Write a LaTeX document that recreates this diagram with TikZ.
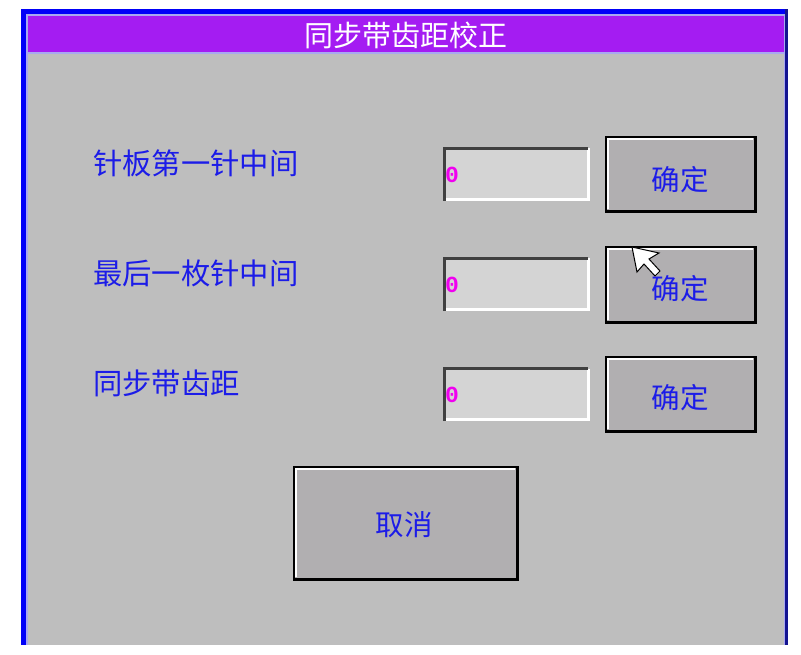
\documentclass[tikz,border=0pt]{standalone}
\usepackage{fontspec}
\newfontfamily\cjk{Noto Sans CJK SC}
\newfontfamily\monofnt{Liberation Mono}
\definecolor{winblue}{HTML}{0000F8}
\definecolor{winnavy}{HTML}{141490}
\definecolor{paleblue}{HTML}{A8A8F0}
\definecolor{titlepurple}{HTML}{A41CF2}
\definecolor{bodygray}{HTML}{BEBEBE}
\definecolor{btngray}{HTML}{B1AFB1}
\definecolor{fieldgray}{HTML}{D4D4D4}
\definecolor{txtblue}{HTML}{1C1CE8}
\definecolor{magentatxt}{HTML}{F000F0}
\tikzset{
  lbl/.style={anchor=west, inner sep=0pt, text=txtblue, font=\cjk\fontsize{29.3}{29.3}\selectfont},
  btntxt/.style={inner sep=0pt, text=txtblue, font=\cjk\fontsize{28.5}{28.5}\selectfont},
  zero/.style={anchor=west, inner sep=0pt, text=magentatxt, font=\monofnt\bfseries\fontsize{23}{23}\selectfont},
}
\usetikzlibrary{calc}
\newcommand{\mybutton}[5]{% name, x1,y1,x2,y2
  \fill[btngray] (#2,#3) rectangle (#4,#5);
  \draw[white, line width=1.5pt] ($(#2,#5)+(2,-3)$) -- ($(#2,#3)+(2,2)$) -- ($(#4,#3)+(-3,2)$);
  \draw[black, line width=2pt] (#2,#3) rectangle (#4,#5);
  \draw[black, line width=1.5pt] ($(#4,#3)+(-1.5,1)$) -- ($(#4,#5)+(-1.5,-1.5)$) -- ($(#2,#5)+(1,-1.5)$);
  \coordinate (#1) at ($(#2,#3)!0.5!(#4,#5)$);
}
\newcommand{\myfield}[5]{% name, x1,y1,x2,y2
  \fill[fieldgray] (#2,#3) rectangle (#4,#5);
  \draw[white, line width=3pt] ($(#4,#3)+(0,1.5)$) -- ($(#4,#5)+(0,-1.5)$) -- ($(#2,#5)+(0,-1.5)$);
  \draw[black!75, line width=3pt] ($(#2,#5)+(1.5,0)$) -- ($(#2,#3)+(1.5,1.5)$) -- ($(#4,#3)+(0,1.5)$);
  \coordinate (#1) at ($(#2,#3)!0.5!(#4,#5)$);
}
\begin{document}
\begin{tikzpicture}[x=1pt,y=-1pt]
\useasboundingbox (0,0) rectangle (801,655);
\fill[white] (0,0) rectangle (801,655);
% window frame
\fill[winblue] (21,9) rectangle (788,645);
\fill[winnavy] (785,9) rectangle (788,645);
\fill[paleblue] (26,14) rectangle (785,645);
\fill[bodygray] (28,54) rectangle (783.5,645);
% title bar
\fill[titlepurple] (28,16) rectangle (783.5,52);
\node[inner sep=0pt, text=white, font=\cjk\fontsize{29}{29}\selectfont] (title) at (406,35) {同步带齿距校正};
% labels
\node[lbl] (l1) at (93,163) {针板第一针中间};
\node[lbl] (l2) at (93,273) {最后一枚针中间};
\node[lbl] (l3) at (93,383) {同步带齿距};
% fields
\myfield{f1}{443}{147}{588}{201}
\myfield{f2}{443}{257}{588}{311}
\myfield{f3}{443}{367}{588}{421}
\node[zero] (z1) at (445,175) {0};
\node[zero] (z2) at (445,285) {0};
\node[zero] (z3) at (445,395) {0};
% buttons
\mybutton{b1}{606}{137}{756}{212}
\mybutton{b2}{606}{247}{756}{323}
\mybutton{b3}{606}{357}{756}{432}
\mybutton{bc}{294}{467}{518}{580}
\node[btntxt] (t1) at (680,180) {确定};
\node[btntxt] (t2) at (680,289) {确定};
\node[btntxt] (t3) at (680,398) {确定};
\node[btntxt] (tc) at (404,525) {取消};
% mouse cursor
\draw[fill=white, draw=black, line width=1pt, line join=miter]
  (632,247) -- (637,272) -- (644,264) -- (655,276) -- (660,271) -- (649,259) -- (659,253) -- cycle;
\end{tikzpicture}
\end{document}
